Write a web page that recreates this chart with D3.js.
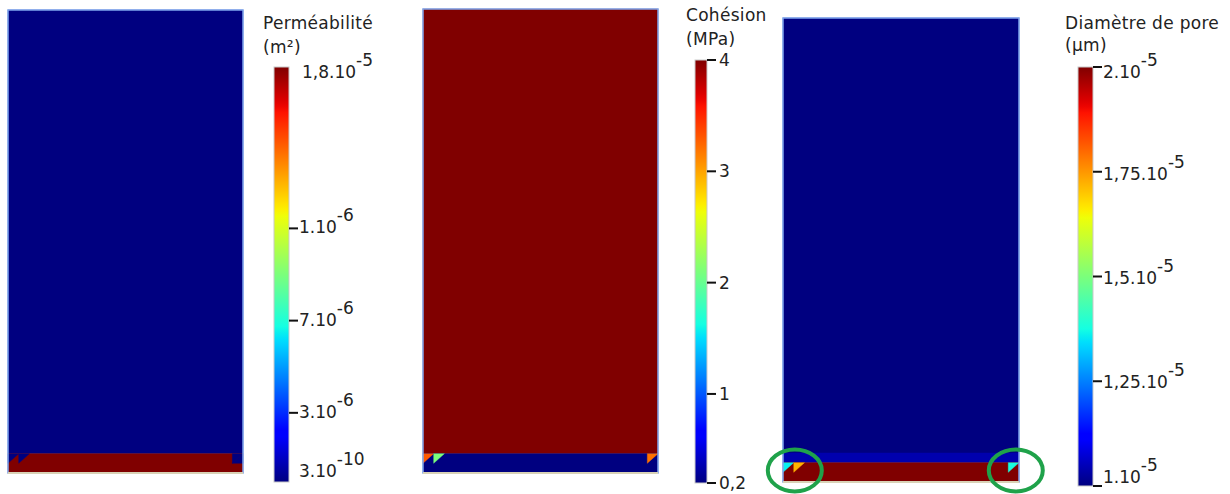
<!DOCTYPE html>
<html><head><meta charset="utf-8">
<script src="https://cdn.jsdelivr.net/npm/d3@7"></script>
<style>
body{margin:0;background:#fff}
text{font-family:"DejaVu Sans",sans-serif;fill:#222}
</style>
</head><body>
<svg id="c" width="1230" height="494"></svg>
<script>
// ---- mesh ----
const nCols = 22, nRows = 48;

// ---- Perméabilité ----
const permTitle = ["Perméabilité", "(m²)"];
const permDomain = [3e-10, 1.8e-5];
const permTicks = [3e-6, 7e-6, 1.1e-5];
const permTickLabels = [["3.10", "-6"], ["7.10", "-6"], ["1.10", "-6"]];
const permEndValues = [3e-10, 1.8e-5];
const permEndLabels = [["3.10", "-10"], ["1,8.10", "-5"]];
const permLayers = [[0, 46, 3e-10], [46, 48, 1.8e-5]];
const permCells = [[0, 46, "u", 3e-10], [1, 46, "u", 3e-10], [21, 46, "u", 3e-10], [21, 46, "l", 3e-10]];

// ---- Cohésion ----
const cohTitle = ["Cohésion", "(MPa)"];
const cohDomain = [0.2, 4];
const cohTicks = [0.2, 1, 2, 3, 4];
const cohTickLabels = [["0,2", ""], ["1", ""], ["2", ""], ["3", ""], ["4", ""]];
const cohLayers = [[0, 46, 4], [46, 48, 0.2]];
const cohCells = [[0, 46, "u", 3.3], [1, 46, "u", 2.1], [21, 46, "u", 3.2]];

// ---- Diamètre de pore ----
const poreTitle = ["Diamètre de pore", "(µm)"];
const poreDomain = [1e-5, 2e-5];
const poreTicks = [1e-5, 1.25e-5, 1.5e-5, 1.75e-5, 2e-5];
const poreTickLabels = [["1.10", "-5"], ["1,25.10", "-5"], ["1,5.10", "-5"], ["1,75.10", "-5"], ["2.10", "-5"]];
const poreLayers = [[0, 45, 1e-5], [45, 46, 1.04e-5], [46, 48, 2e-5]];
const poreCells = [[0, 46, "u", 1.36e-5], [1, 46, "u", 1.72e-5], [21, 46, "u", 1.38e-5]];
const poreMarks = [[1.1, 46.8], [21.7, 46.8]];

// ---- jet colormap ----
const jr = d3.scaleLinear([0, 0.35, 0.66, 0.89, 1], [0, 0, 1, 1, 0.5]).clamp(true);
const jg = d3.scaleLinear([0, 0.125, 0.375, 0.64, 0.91, 1], [0, 0, 1, 1, 0, 0]).clamp(true);
const jb = d3.scaleLinear([0, 0.11, 0.34, 0.65, 1], [0.5, 1, 1, 0, 0]).clamp(true);
const jet = t => d3.rgb(jr(t) * 255, jg(t) * 255, jb(t) * 255).formatHex();

const svg = d3.select("#c");
const defs = svg.append("defs");

const panels = [
  {id: "perm", box: [8, 10, 243, 473], cb: [274, 67, 289, 482], domain: permDomain,
   layers: permLayers, cells: permCells, title: permTitle, titleX: 263, titleY: [29, 53],
   ticks: permTicks, labels: permTickLabels, labelX: 299, dy: [5, 5, 5],
   ends: permEndValues, endLabels: permEndLabels, endX: [299, 302], endDy: [-5, 11]},
  {id: "coh", box: [423, 9, 658, 473], cb: [695, 60, 707, 483], domain: cohDomain,
   layers: cohLayers, cells: cohCells, title: cohTitle, titleX: 686, titleY: [21, 45],
   ticks: cohTicks, labels: cohTickLabels, labelX: 719, dy: [6, 6, 6, 6, 6]},
  {id: "pore", box: [783, 18, 1019, 482], cb: [1078, 67, 1093, 486], domain: poreDomain,
   layers: poreLayers, cells: poreCells, title: poreTitle, titleX: 1065, titleY: [29, 51],
   ticks: poreTicks, labels: poreTickLabels, labelX: 1103, dy: [-3, 7, 7, 8, 11], marks: poreMarks}
];

function addLabel(g, x, y, parts) {
  const t = g.append("text").attr("x", x).attr("y", y).style("font-size", "17px");
  t.append("tspan").text(parts[0]);
  if (parts[1]) t.append("tspan").attr("dy", -12).text(parts[1]);
}

panels.forEach(p => {
  const [x0, y0, x1, y1] = p.box;
  const xs = d3.scaleLinear([0, nCols], [x0, x1]);
  const ys = d3.scaleLinear([0, nRows], [y0, y1]);
  const norm = d3.scaleLinear(p.domain, [0, 1]).clamp(true);
  const col = v => jet(norm(v));
  const g = svg.append("g");

  // layers
  g.selectAll("rect.layer").data(p.layers).join("rect")
    .attr("x", xs(0)).attr("width", xs(nCols) - xs(0))
    .attr("y", d => ys(d[0])).attr("height", d => ys(d[1]) - ys(d[0]))
    .attr("fill", d => col(d[2])).attr("stroke", d => col(d[2])).attr("stroke-width", 0.4);

  // triangle cells
  const tri = d => {
    const [c, r, k] = d;
    const pts = k === "u" ? [[c, r], [c + 1, r], [c, r + 1]] : [[c + 1, r], [c + 1, r + 1], [c, r + 1]];
    return pts.map(q => xs(q[0]) + "," + ys(q[1])).join(" ");
  };
  g.selectAll("polygon.cell").data(p.cells).join("polygon")
    .attr("points", tri).attr("fill", d => col(d[3])).attr("stroke", d => col(d[3])).attr("stroke-width", 0.4);

  // border
  g.append("rect").attr("x", x0).attr("y", y0).attr("width", x1 - x0).attr("height", y1 - y0)
    .attr("fill", "none").attr("stroke", "#7fa6ee").attr("stroke-width", 1.5);
  g.append("line").attr("x1", x0).attr("x2", x1).attr("y1", y1).attr("y2", y1)
    .attr("stroke", "#d8d2b6").attr("stroke-width", 1.8);

  // annotation ellipses
  if (p.marks) {
    g.selectAll("ellipse").data(p.marks).join("ellipse")
      .attr("cx", d => xs(d[0])).attr("cy", d => ys(d[1])).attr("rx", 27).attr("ry", 21)
      .attr("fill", "none").attr("stroke", "#1fa24a").attr("stroke-width", 4);
  }

  // colorbar
  const [cx0, cy0, cx1, cy1] = p.cb;
  const grad = defs.append("linearGradient").attr("id", "g_" + p.id)
    .attr("x1", 0).attr("y1", 1).attr("x2", 0).attr("y2", 0);
  d3.range(0, 65).forEach(i => grad.append("stop").attr("offset", i / 64).attr("stop-color", jet(i / 64)));
  g.append("rect").attr("x", cx0).attr("y", cy0).attr("width", cx1 - cx0).attr("height", cy1 - cy0)
    .attr("fill", "url(#g_" + p.id + ")").attr("stroke", "#c9c9c9").attr("stroke-width", 1);

  const cs = d3.scaleLinear(p.domain, [cy1, cy0]);
  p.ticks.forEach((v, i) => {
    g.append("line").attr("x1", cx1).attr("x2", cx1 + 9).attr("y1", cs(v)).attr("y2", cs(v))
      .attr("stroke", "#111").attr("stroke-width", 2);
    addLabel(g, p.labelX, cs(v) + p.dy[i], p.labels[i]);
  });
  if (p.ends) {
    p.ends.forEach((v, i) => addLabel(g, p.endX[i], cs(v) + p.endDy[i], p.endLabels[i]));
  }

  // title
  p.title.forEach((t, i) => g.append("text").attr("x", p.titleX).attr("y", p.titleY[i])
    .style("font-size", "17px").style("letter-spacing", "0.3px").text(t));
});
</script>
</body></html>
